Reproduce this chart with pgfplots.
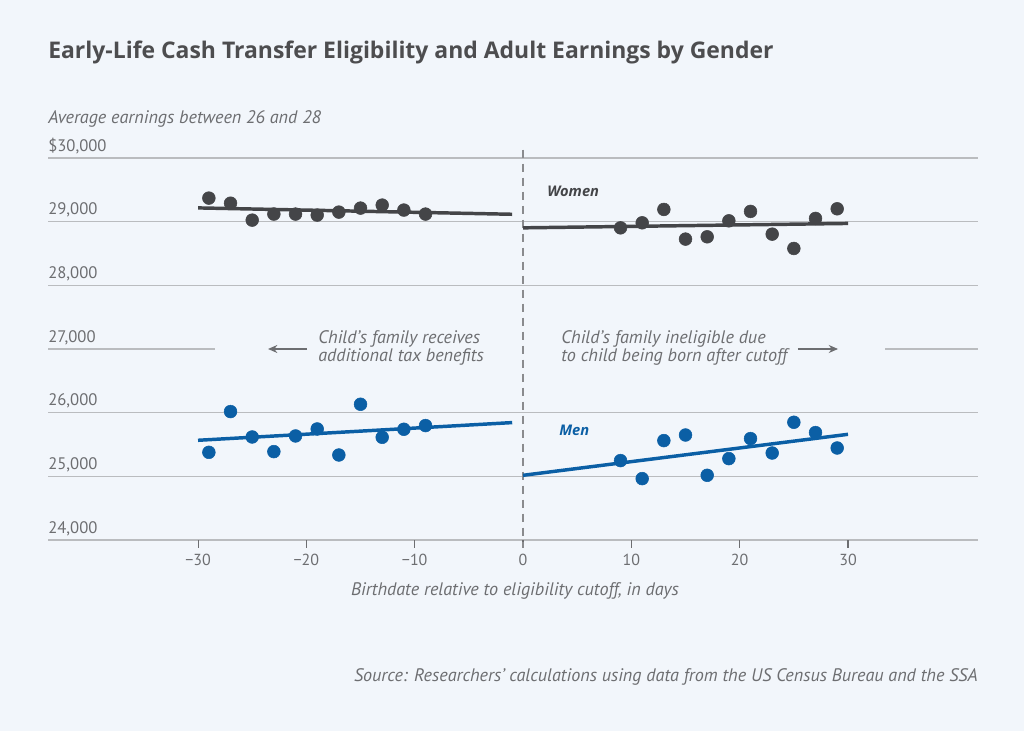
\documentclass[border=0pt]{standalone}
\usepackage{pgfplots}
\pgfplotsset{compat=1.18}
\usepackage{fontspec}
\setmainfont{PT Sans}
\newfontfamily\titlefont{Open Sans}
\usetikzlibrary{arrows.meta}

\definecolor{bg}{HTML}{F2F6FB}
\definecolor{dotgray}{HTML}{444548}
\definecolor{dotblue}{HTML}{0B5FA5}
\definecolor{txtgray}{HTML}{6D6E71}
\definecolor{titlegray}{HTML}{4D4D4F}
\definecolor{gridgray}{HTML}{BABCBF}

\tikzset{ylab/.style={anchor=base west, inner sep=0pt, text=txtgray, font=\fontsize{12.5pt}{14pt}\selectfont, yshift=5pt},
  note/.style={anchor=west, align=left, inner sep=0pt, text=txtgray, font=\fontsize{13.6pt}{13.5pt}\selectfont\itshape}}

\begin{document}
\begin{tikzpicture}[x=0.75pt,y=0.75pt]
\fill[bg] (0,0) rectangle (1024,731);

\begin{axis}[
    at={(36pt,143.25pt)}, anchor=south west,
    scale only axis, width=697.5pt, height=286.5pt,
    xmin=-43.85, xmax=42.0,
    ymin=24000, ymax=30000,
    clip=false,
    axis line style={draw=none},
    scaled y ticks=false,
    ytick={24000,25000,26000,28000,29000,30000},
    yticklabels={},
    ymajorgrids=true,
    grid style={gridgray, line width=1pt},
    y tick style={draw=none},
    xtick={-30,-20,...,30},
    xticklabels={−30,−20,−10,0,10,20,30},
    xtick pos=lower,
    tick align=outside,
    major tick length=6pt,
    x tick style={txtgray, line width=0.8pt},
    xticklabel style={font=\fontsize{12pt}{13pt}\selectfont, text=txtgray, yshift=-1pt},
  ]
  % 27,000 gridline is broken by the annotations
  \draw[gridgray, line width=1pt] (axis cs:-43.85,27000) -- (axis cs:-28.43,27000);
  \draw[gridgray, line width=1pt] (axis cs:33.42,27000) -- (axis cs:42.0,27000);
  \draw[txtgray!80, line width=0.8pt, dash pattern=on 6pt off 4.5pt] (axis cs:0,30130) -- (axis cs:0,23870);

  % y labels sit above their lines
  \node[ylab] at (axis cs:-43.85,30000) {\$30,000};
  \node[ylab] at (axis cs:-43.85,29000) {29,000};
  \node[ylab] at (axis cs:-43.85,28000) {28,000};
  \node[ylab] at (axis cs:-43.85,27000) {27,000};
  \node[ylab] at (axis cs:-43.85,26000) {26,000};
  \node[ylab] at (axis cs:-43.85,25000) {25,000};
  \node[ylab] at (axis cs:-43.85,24000) {24,000};

  % women
  \addplot[only marks, mark=*, mark size=4.8pt, dotgray] coordinates {
    (-29,29370) (-27,29290) (-25,29024) (-23,29119) (-21,29119) (-19,29103)
    (-17,29150) (-15,29213) (-13,29260) (-11,29182) (-9,29119)
  };
  \addplot[only marks, mark=*, mark size=4.8pt, dotgray] coordinates {
    (9,28903) (11,28982) (13,29192) (15,28726) (17,28762) (19,29013)
    (21,29161) (23,28804) (25,28579) (27,29051) (29,29202)
  };
  \addplot[dotgray, line width=2.6pt] coordinates {(-30,29216) (-1,29116)};
  \addplot[dotgray, line width=2.6pt] coordinates {(0,28903) (30,28972)};

  % men
  \addplot[only marks, mark=*, mark size=4.8pt, dotblue] coordinates {
    (-29,25377) (-27,26017) (-25,25618) (-23,25388) (-21,25634) (-19,25744)
    (-17,25335) (-15,26132) (-13,25613) (-11,25739) (-9,25797)
  };
  \addplot[only marks, mark=*, mark size=4.8pt, dotblue] coordinates {
    (9,25247) (11,24964) (13,25561) (15,25649) (17,25016) (19,25278)
    (21,25593) (23,25366) (25,25849) (27,25687) (29,25445)
  };
  \addplot[dotblue, line width=2.6pt] coordinates {(-30,25566) (-1,25844)};
  \addplot[dotblue, line width=2.6pt] coordinates {(0,25016) (30,25660)};

  \node[anchor=west, inner sep=0pt, text=dotgray, font=\titlefont\fontsize{11pt}{12pt}\selectfont\bfseries\itshape] at (axis cs:2.22,29480) {Women};
  \node[anchor=west, inner sep=0pt, text=dotblue, font=\titlefont\fontsize{11pt}{12pt}\selectfont\bfseries\itshape] at (axis cs:3.32,25723) {Men};

  % annotations
  \node[note] at (axis cs:-18.92,27010) {Child’s family receives\\additional tax benefits};
  \node[note] at (axis cs:3.51,27010) {Child’s family ineligible due\\to child being born after cutoff};
  \draw[txtgray, line width=0.9pt, -{Stealth[length=7pt, width=6pt]}] (axis cs:-19.94,27000) -- (axis cs:-23.54,27000);
  \draw[txtgray, line width=0.9pt, -{Stealth[length=7pt, width=6pt]}] (axis cs:25.38,27000) -- (axis cs:29.08,27000);
\end{axis}

\node[anchor=base west, inner sep=0pt, text=titlegray, font=\titlefont\fontsize{17.2pt}{20pt}\selectfont\bfseries] at (48,672) {Early-Life Cash Transfer Eligibility and Adult Earnings by Gender};
\node[anchor=base west, inner sep=0pt, text=txtgray, font=\fontsize{13.6pt}{14pt}\selectfont\itshape] at (48,607) {Average earnings between 26 and 28};
\node[anchor=base, inner sep=0pt, text=txtgray, font=\fontsize{13.6pt}{14pt}\selectfont\itshape] at (515,135) {Birthdate relative to eligibility cutoff, in days};
\node[anchor=base east, inner sep=0pt, text=txtgray, font=\fontsize{13.6pt}{14pt}\selectfont\itshape] at (978,49) {Source: Researchers’ calculations using data from the US Census Bureau and the SSA};
\end{tikzpicture}
\end{document}
